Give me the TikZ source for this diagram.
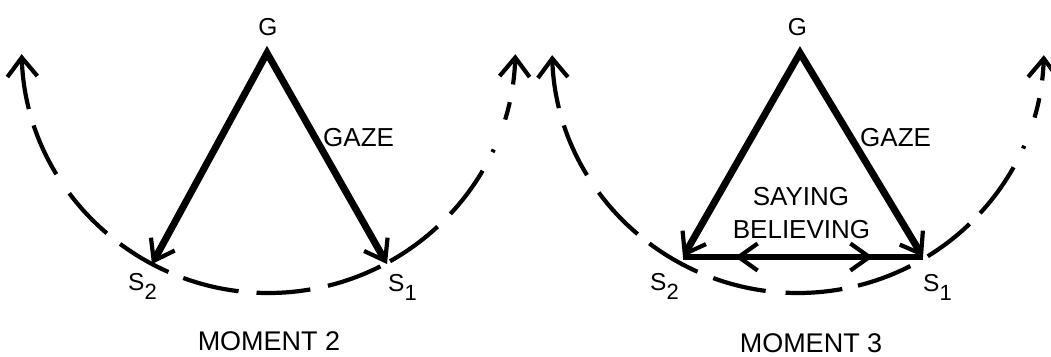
\documentclass[tikz,border=0pt]{standalone}
\usepackage{fontspec}
\setmainfont{Liberation Sans}
\usetikzlibrary{arrows.meta,decorations.markings,calc}
\tikzset{
  arctip/.tip={Straight Barb[length=19pt,width=30pt,line width=4.2pt]},
  gazetip/.tip={Straight Barb[length=19pt,width=27pt,line width=4.2pt]},
  orbit/.style={line width=4.2pt, arrows={arctip-arctip}},
  gaze/.style={line width=7pt, line join=miter, arrows={gazetip-gazetip}},
  talk/.style={line width=6.5pt},
  lbl/.style={inner sep=0pt, font=\fontsize{26}{26}\selectfont},
  toplbl/.style={inner sep=0pt, font=\fontsize{24.5}{24.5}\selectfont},
  caption/.style={inner sep=0pt, font=\fontsize{27}{27}\selectfont},
  slbl/.style={inner sep=0pt, anchor=base west, font=\fontsize{24.5}{24.5}\selectfont},
}
\newcommand{\subidx}[1]{\raisebox{-9pt}{\fontsize{22}{22}\selectfont #1}}
\begin{document}
\begin{tikzpicture}[x=1pt,y=-1pt]
\useasboundingbox (0,0) rectangle (1051,356);
\fill[white] (0,0) rectangle (1051,356);

% ---------- Moment 2 ----------
\coordinate (C2) at (268.5,46);
\coordinate (G2) at (267,53);
\coordinate (L2) at (152,264);
\coordinate (R2) at (387,264);

\draw[orbit, dash pattern=on 50pt off 17pt on 54pt off 23pt on 55pt off 17pt on 56pt off 16pt on 57pt off 18pt on 54pt off 18pt on 56pt off 11pt on 59pt off 18pt on 54pt off 21pt on 3pt off 32pt on 18pt off 18pt on 40pt]
  ($(C2)+(178.1:247)$) arc[start angle=178.1, end angle=1.9, radius=247];
\draw[gaze] (L2) -- (G2) -- (R2);

\node[toplbl, anchor=base] (g2) at (268,35) {G};
\node[lbl, anchor=base west] (gaze2) at (323,146) {GAZE};
\node[slbl] (s2a) at (128,290) {S\subidx{2}};
\node[slbl] (s2b) at (388,291) {S\subidx{1}};
\node[caption, anchor=base] (m2) at (269,350) {MOMENT 2};

% ---------- Moment 3 ----------
\coordinate (C3) at (798,47);
\coordinate (G3) at (800,53);
\coordinate (L3) at (683,257);
\coordinate (R3) at (923,257);

\draw[orbit, dash pattern=on 48pt off 18pt on 55pt off 21pt on 57pt off 15pt on 56pt off 17pt on 54pt off 20pt on 57pt off 16pt on 56pt off 20pt on 53pt off 15pt on 57pt off 21pt on 3pt off 30pt on 20pt off 18pt on 40pt]
  ($(C3)+(178.1:246)$) arc[start angle=178.1, end angle=1.9, radius=246];
\draw[talk, postaction={decorate}, decoration={markings,
    mark=at position 52pt with {\arrowreversed{gazetip}},
    mark=at position 190pt with {\arrow{gazetip}}}] (L3) -- (R3);
\draw[gaze] (L3) -- (G3) -- (R3);

\node[toplbl, anchor=base] (g3) at (797.5,35) {G};
\node[lbl, anchor=base west] (gaze3) at (860,146) {GAZE};
\node[lbl, anchor=base] (say) at (801,205) {SAYING};
\node[lbl, anchor=base] (bel) at (801.5,238) {BELIEVING};
\node[slbl] (s3a) at (650,290) {S\subidx{2}};
\node[slbl] (s3b) at (923,291) {S\subidx{1}};
\node[caption, anchor=base] (m3) at (811,352) {MOMENT 3};
\end{tikzpicture}
\end{document}
